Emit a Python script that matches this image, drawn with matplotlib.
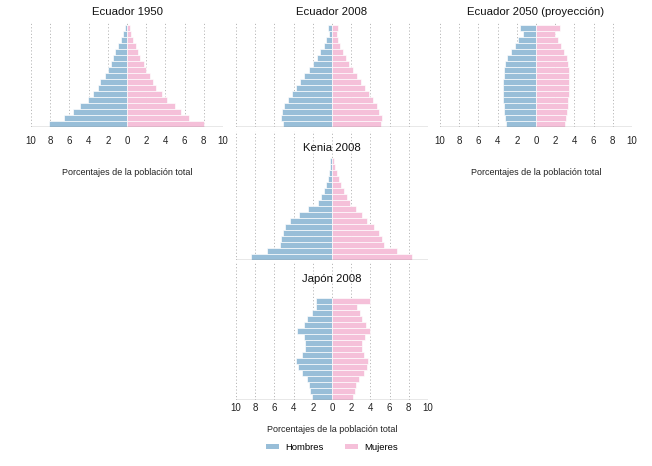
import matplotlib.pyplot as plt
from matplotlib.patches import Patch

plt.rcParams["font.family"] = ["Liberation Sans", "DejaVu Sans"]

# age groups 0-4 ... 80+ (bottom to top), percentages of total population
age_groups = ["0-4", "5-9", "10-14", "15-19", "20-24", "25-29", "30-34", "35-39",
              "40-44", "45-49", "50-54", "55-59", "60-64", "65-69", "70-74",
              "75-79", "80+"]

ecuador_1950_men = [8.1, 6.6, 5.6, 4.85, 4.1, 3.5, 3.0, 2.8, 2.3, 2.0, 1.7,
                    1.45, 1.2, 0.9, 0.65, 0.4, 0.25]
ecuador_1950_women = [8.0, 6.45, 5.65, 4.95, 4.2, 3.6, 3.0, 2.7, 2.35, 2.0, 1.75,
                      1.4, 1.15, 0.9, 0.6, 0.45, 0.3]

ecuador_2008_men = [5.1, 5.3, 5.2, 5.0, 4.6, 4.2, 3.75, 3.3, 2.9, 2.35, 2.0,
                    1.55, 1.2, 0.87, 0.62, 0.35, 0.38]
ecuador_2008_women = [5.1, 5.2, 4.9, 4.7, 4.25, 3.9, 3.45, 3.0, 2.6, 2.15, 1.8,
                      1.45, 1.1, 0.87, 0.6, 0.5, 0.66]

ecuador_2050_men = [3.1, 3.2, 3.3, 3.35, 3.4, 3.4, 3.4, 3.4, 3.35, 3.3, 3.2,
                    3.0, 2.6, 2.2, 1.85, 1.4, 1.65]
ecuador_2050_women = [3.0, 3.1, 3.2, 3.3, 3.35, 3.4, 3.45, 3.45, 3.45, 3.4, 3.3,
                      3.2, 2.95, 2.65, 2.3, 1.95, 2.5]

kenia_2008_men = [8.4, 6.8, 5.45, 5.3, 5.1, 4.9, 4.4, 3.4, 2.45, 1.5, 1.1,
                  0.87, 0.66, 0.45, 0.3, 0.25, 0.17]
kenia_2008_women = [8.3, 6.8, 5.45, 5.2, 4.9, 4.35, 3.65, 3.1, 2.45, 1.9, 1.55,
                    1.2, 0.95, 0.7, 0.52, 0.35, 0.25]

japon_2008_men = [2.05, 2.25, 2.35, 2.65, 3.1, 3.55, 3.7, 3.1, 2.85, 2.85, 2.95,
                  3.6, 2.95, 2.6, 2.1, 1.7, 1.7]
japon_2008_women = [2.15, 2.35, 2.45, 2.8, 3.3, 3.65, 3.75, 3.3, 3.1, 3.15, 3.45,
                    4.0, 3.5, 3.1, 2.95, 2.6, 4.0]

tick_values = [-10, -8, -6, -4, -2, 0, 2, 4, 6, 8, 10]
tick_labels = ["10", "8", "6", "4", "2", "0", "2", "4", "6", "8", "10"]

MEN_COLOR = "#98bed8"
WOMEN_COLOR = "#f5c0d9"
W, H = 652, 466

fig = plt.figure(figsize=(W / 100, H / 100), dpi=100)


def add_pyramid(left, right, top, bottom, title, title_y, men, women,
                show_ticks=False):
    # box given in pixels from the top-left corner
    ax = fig.add_axes([left / W, 1 - bottom / H, (right - left) / W, (bottom - top) / H])
    y = range(len(age_groups))
    ax.barh(y, [-v for v in men], height=1.0, color=MEN_COLOR,
            edgecolor="white", linewidth=0.45, zorder=2)
    ax.barh(y, women, height=1.0, color=WOMEN_COLOR,
            edgecolor="white", linewidth=0.45, zorder=2)
    n_rows = (bottom - top) / 6.0
    ax.set_ylim(-0.5, -0.5 + n_rows)
    ax.set_xlim(-10, 10)
    for x in tick_values:
        ax.axvline(x, color="#b8b8b8", linewidth=0.7, linestyle=(0, (1.2, 2.2)), zorder=1)
    ax.axhline(-0.5, color="#8c8c8c", linewidth=1.0, zorder=3)
    for s in ax.spines.values():
        s.set_visible(False)
    ax.set_yticks([])
    ax.set_xticks(tick_values)
    ax.tick_params(axis="x", length=0, labelsize=7, colors="#222222")
    if show_ticks:
        ax.set_xticklabels(tick_labels)
    else:
        ax.set_xticklabels([])
    ax.patch.set_alpha(0)
    fig.text(((left + right) / 2) / W, 1 - title_y / H, title,
             ha="center", va="center", fontsize=8.2, color="#111111")
    return ax


ax_a = add_pyramid(31, 223, 22, 127, "Ecuador 1950", 12,
                   ecuador_1950_men, ecuador_1950_women, show_ticks=True)
ax_b = add_pyramid(236, 428, 22, 127, "Ecuador 2008", 12,
                   ecuador_2008_men, ecuador_2008_women)
ax_c = add_pyramid(440, 632, 22, 127, "Ecuador 2050 (proyección)", 12,
                   ecuador_2050_men, ecuador_2050_women, show_ticks=True)
ax_d = add_pyramid(236, 428, 131, 260, "Kenia 2008", 148,
                   kenia_2008_men, kenia_2008_women)
ax_e = add_pyramid(236, 428, 263, 400, "Japón 2008", 279,
                   japon_2008_men, japon_2008_women, show_ticks=True)

for ax in (ax_a, ax_c):
    ax.tick_params(axis="x", pad=6.5)
    ax.set_xlabel("Porcentajes de la población total", fontsize=6.5,
                  labelpad=16, color="#222222")
ax_e.tick_params(axis="x", pad=2.5)
ax_e.set_xlabel("Porcentajes de la población total", fontsize=6.5,
                labelpad=8, color="#222222")

handles = [Patch(facecolor=MEN_COLOR, edgecolor="none", label="Hombres"),
           Patch(facecolor=WOMEN_COLOR, edgecolor="none", label="Mujeres")]
fig.legend(handles=handles, loc="center", bbox_to_anchor=(332 / W, 1 - 447 / H),
           ncol=2, frameon=False, fontsize=6.8, handlelength=1.4, handleheight=0.45,
           columnspacing=2.2, handletextpad=0.7)

fig.savefig("out.png", dpi=100, facecolor="white")
